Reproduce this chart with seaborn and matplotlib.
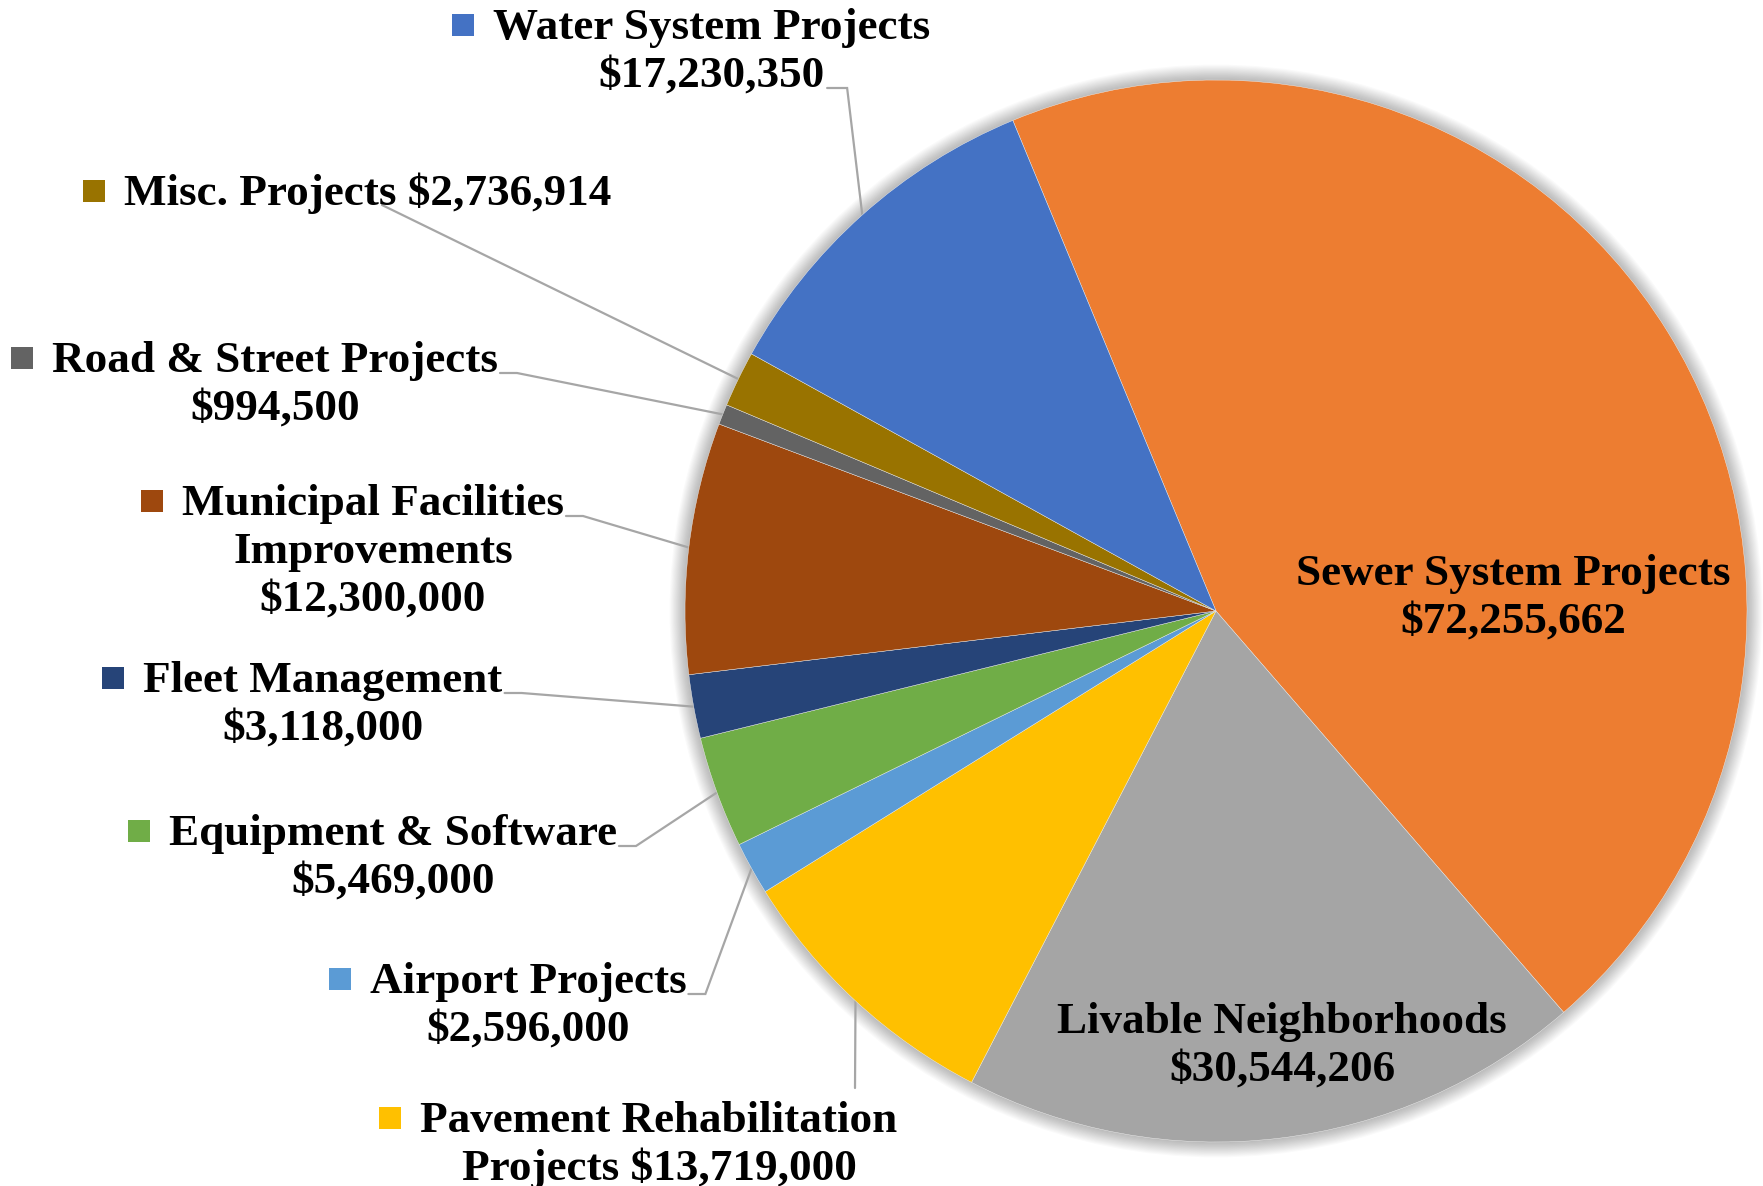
import matplotlib
matplotlib.use("Agg")
import numpy as np
import matplotlib.pyplot as plt
from matplotlib.patches import Rectangle, Circle
import seaborn as sns

# ---------------- data ----------------
categories = ["Sewer System Projects", "Livable Neighborhoods", "Pavement Rehabilitation Projects",
              "Airport Projects", "Equipment & Software", "Fleet Management",
              "Municipal Facilities Improvements", "Road & Street Projects", "Misc. Projects",
              "Water System Projects"]
values = [72255662, 30544206, 13719000, 2596000, 5469000, 3118000,
          12300000, 994500, 2736914, 17230350]
colors = ["#ED7D31", "#A5A5A5", "#FFC000", "#5B9BD5", "#70AD47", "#264478",
          "#9E480E", "#636363", "#997300", "#4472C4"]
# words per label line
wraps = [[3, 1], [2, 1], [2, 2], [2, 1], [3, 1], [2, 1], [2, 1, 1], [4, 1], [3], [3, 1]]

# ---------------- layout (pixel coords, y from top) ----------------
W, H = 1763, 1186
CX, CY, R = 1216, 611, 531
START = 112.5
label_pos = [(1513, 585), (1282, 1033), (659, 1132), (528, 993), (393, 845),
             (323, 692), (373, 515), (275, 372), (368, 205), (712, 39)]
show_key = [False, False, True, True, True, True, True, True, True, True]
# leader: None, 'hook1' (from first line end), 'hookL' (from last line end), or fixed start point
leader = [None, None, (855, 1088), 'hook1', 'hook1', 'hook1', 'hook1', 'hook1', (382, 205), 'hookL']
LINE_SP = 48
FS = 32.5

sns.set_theme(style="white")
plt.rcParams['font.family'] = ['Liberation Serif', 'DejaVu Serif']

fig = plt.figure(figsize=(W / 100, H / 100), dpi=100)
ax = fig.add_axes([0, 0, 1, 1])
palette = sns.color_palette(colors)

def Y(py):
    return H - py

# soft shadow around the pie
for k in range(1, 15):
    ax.add_patch(Circle((CX, Y(CY)), R + k * 1.1, facecolor="black", alpha=0.018,
                        edgecolor="none", zorder=0))

wedges, _ = ax.pie(values, colors=palette, startangle=START, counterclock=False,
                   center=(CX, Y(CY)), radius=R,
                   wedgeprops=dict(edgecolor="#f0f0f0", linewidth=0.3, zorder=2))
ax.set_xlim(0, W)
ax.set_ylim(0, H)
ax.set_aspect('auto')
ax.set_axis_off()

# labels
text_objs = []
for i, cat in enumerate(categories):
    words = (cat + " " + f"${values[i]:,}").split(" ")
    lines, k = [], 0
    for n in wraps[i]:
        lines.append(" ".join(words[k:k + n]))
        k += n
    cx, b1 = label_pos[i]
    objs = []
    for j, ln in enumerate(lines):
        t = ax.text(cx, Y(b1 + j * LINE_SP), ln, ha="center", va="baseline",
                    fontsize=FS, fontweight="bold", color="black", zorder=5)
        objs.append(t)
    text_objs.append(objs)

fig.canvas.draw()
rend = fig.canvas.get_renderer()

for i, objs in enumerate(text_objs):
    cx, b1 = label_pos[i]
    bb1 = objs[0].get_window_extent(rend)
    if show_key[i]:
        s = 22
        ax.add_patch(Rectangle((bb1.x0 - 19 - s, Y(b1 - 14) - s / 2), s, s,
                               facecolor=colors[i], edgecolor="none", zorder=5))
    w = wedges[i]
    mid = np.deg2rad((w.theta1 + w.theta2) / 2)
    ex, ey = CX + R * np.cos(mid), Y(CY) + R * np.sin(mid)
    ld = leader[i]
    if ld is None:
        continue
    if ld == 'hook1':
        sx, sy = bb1.x1 + 2, Y(b1 + 1)
        xs, ys = [sx, sx + 17, ex], [sy, sy, ey]
    elif ld == 'hookL':
        bbl = objs[-1].get_window_extent(rend)
        sy = Y(b1 + (len(objs) - 1) * LINE_SP + 1)
        sx = bbl.x1 + 2
        xs, ys = [sx, sx + 20, ex], [sy, sy, ey]
    else:
        xs, ys = [ld[0], ex], [Y(ld[1]), ey]
    ax.plot(xs, ys, color="#A6A6A6", lw=1.6, zorder=1, solid_joinstyle="miter")

fig.savefig("out.png", dpi=100)
